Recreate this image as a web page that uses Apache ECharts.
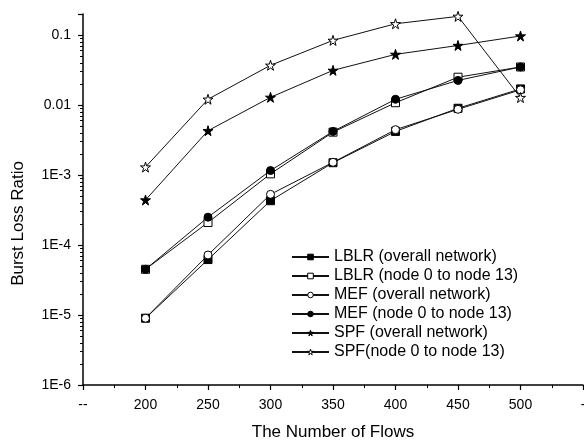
<!DOCTYPE html>
<html>
<head>
<meta charset="utf-8">
<script src="https://cdn.jsdelivr.net/npm/echarts@6/dist/echarts.min.js"></script>
<style>
  html, body { margin: 0; padding: 0; background: #fff; }
  #chart { width: 584px; height: 442px; }
</style>
</head>
<body>
<div id="chart"></div>
<script>
// データ
const flows = [200, 250, 300, 350, 400, 450, 500]
const lblrOverall = [9e-6, 6.2e-5, 4.3e-4, 1.5e-3, 4.2e-3, 9.0e-3, 0.017]
const lblrNode = [4.5e-5, 2.1e-4, 1.04e-3, 4.1e-3, 0.0108, 0.025, 0.035]
const mefOverall = [9e-6, 7.2e-5, 5.3e-4, 1.52e-3, 4.45e-3, 8.7e-3, 0.0165]
const mefNode = [4.5e-5, 2.5e-4, 1.16e-3, 4.2e-3, 0.0121, 0.0225, 0.035]
const spfOverall = [4.4e-4, 4.3e-3, 0.0129, 0.0313, 0.053, 0.071, 0.097]
const spfNode = [1.3e-3, 0.0121, 0.037, 0.084, 0.145, 0.185, 0.0128]
const seriesNames = [
  'LBLR (overall network)',
  'LBLR (node 0 to node 13)',
  'MEF (overall network)',
  'MEF (node 0 to node 13)',
  'SPF (overall network)',
  'SPF(node 0 to node 13)'
]
const xEdgeLabels = { 150: '--', 550: '-' }
const decades = [1e-6, 1e-5, 1e-4, 1e-3, 1e-2, 1e-1]

const font = '"Liberation Sans", Arial, sans-serif'
const star = 'path://M50,0 L61,35 L98,35 L68,57 L79,91 L50,70 L21,91 L32,57 L2,35 L39,35 Z'

// log minor ticks 2..9 of each decade
const minorVals = []
decades.forEach((d) => {
  for (let k = 2; k <= 9; k++) {
    if (d * k <= 0.2) minorVals.push(d * k)
  }
})

function pairs(arr) {
  return arr.map((v, i) => [flows[i], v])
}

function makeSeries(name, data, symbol, filled, size) {
  return {
    name: name,
    type: 'line',
    data: pairs(data),
    symbol: symbol,
    symbolSize: size,
    showSymbol: true,
    lineStyle: { color: '#111', width: 1 },
    itemStyle: {
      color: filled ? '#000' : '#fff',
      borderColor: '#000',
      borderWidth: 1
    },
    emphasis: { disabled: true },
    animation: false
  }
}

const chart = echarts.init(document.getElementById('chart'), null, { renderer: 'canvas' })

const legendData = seriesNames.map((n, i) => {
  const open = i === 1 || i === 2 || i === 5
  return {
    name: n,
    itemStyle: { color: open ? '#fff' : '#000', borderColor: '#000', borderWidth: 1 }
  }
})

const yBase = {
  type: 'log',
  logBase: 10,
  min: 1e-6,
  max: 0.2,
  position: 'left',
  splitLine: { show: false }
}

const option = {
  backgroundColor: '#fff',
  textStyle: { fontFamily: font },
  grid: { left: 83, right: 1, top: 14, bottom: 57, containLabel: false, outerBoundsMode: 'none' },
  legend: {
    orient: 'vertical',
    left: 291,
    top: 249,
    padding: 0,
    itemWidth: 37,
    itemHeight: 7,
    itemGap: 3,
    textStyle: { fontFamily: font, fontSize: 16, color: '#000', lineHeight: 16 },
    data: legendData
  },
  xAxis: {
    type: 'value',
    min: 150,
    max: 550,
    interval: 50,
    name: 'The Number of Flows',
    nameLocation: 'middle',
    nameGap: 39,
    nameTextStyle: { fontFamily: font, fontSize: 17, color: '#000' },
    axisLine: { lineStyle: { color: '#000', width: 1.5 } },
    axisTick: { show: true, inside: false, length: 5, lineStyle: { color: '#000', width: 1.2 } },
    minorTick: { show: true, splitNumber: 2, length: 3, lineStyle: { color: '#000', width: 1 } },
    splitLine: { show: false },
    axisLabel: {
      fontFamily: font,
      fontSize: 14,
      color: '#000',
      margin: 13,
      showMinLabel: true,
      showMaxLabel: true,
      formatter: (v) => (xEdgeLabels[v] !== undefined ? xEdgeLabels[v] : String(v))
    }
  },
  yAxis: [
    Object.assign({}, yBase, {
      // spacer token pushes the title a little below the axis middle
      name: '{t|Burst Loss Ratio}{s|}',
      nameLocation: 'middle',
      nameGap: 56,
      nameTextStyle: {
        fontFamily: font,
        fontSize: 17,
        color: '#000',
        rich: {
          t: { fontFamily: font, fontSize: 17, color: '#000' },
          s: { width: 48 }
        }
      },
      axisLine: { show: true, lineStyle: { color: '#000', width: 1.5 } },
      axisTick: { show: true, inside: false, length: 5, lineStyle: { color: '#000', width: 1.2 } },
      axisLabel: {
        fontFamily: font,
        fontSize: 14,
        color: '#000',
        margin: 12,
        formatter: (v) => {
          const l = Math.log10(v)
          const e = Math.round(l)
          if (Math.abs(l - e) > 0.01) return ''
          if (e >= -2) return String(Math.pow(10, e).toFixed(-e))
          return '1E' + e
        }
      }
    }),
    Object.assign({}, yBase, {
      axisLine: { show: false },
      axisLabel: { show: false },
      axisTick: {
        show: true,
        inside: false,
        length: 3,
        customValues: minorVals,
        lineStyle: { color: '#000', width: 1 }
      }
    })
  ],
  series: [
    makeSeries(seriesNames[0], lblrOverall, 'rect', true, 8),
    makeSeries(seriesNames[1], lblrNode, 'rect', false, 8),
    makeSeries(seriesNames[2], mefOverall, 'circle', false, 8),
    makeSeries(seriesNames[3], mefNode, 'circle', true, 8),
    makeSeries(seriesNames[4], spfOverall, star, true, 10),
    makeSeries(seriesNames[5], spfNode, star, false, 10)
  ]
}

chart.setOption(option)
</script>
</body>
</html>
